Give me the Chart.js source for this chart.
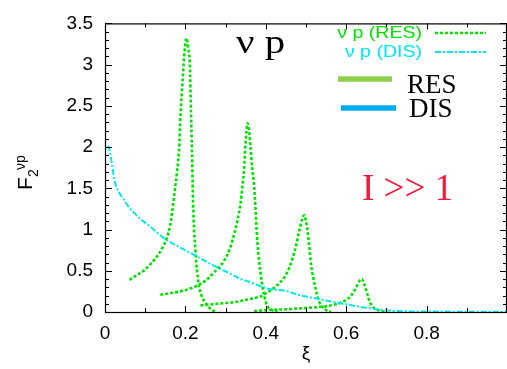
<!DOCTYPE html>
<html><head><meta charset="utf-8">
<script src="https://cdn.jsdelivr.net/npm/chart.js@4"></script>
<style>html,body{margin:0;padding:0;background:#fff;}canvas{display:block;}</style>
</head><body>
<canvas id="c" width="507" height="369"></canvas>
<script>
// ---- data ----
const disX = [0.0075,0.0125,0.025,0.035,0.046,0.0625,0.071,0.09,0.1125,0.13,0.154,0.18,0.204,0.2375,0.279,0.31,0.3375,0.3625,0.383,0.408,0.446,0.48,0.529,0.57,0.6125,0.65,0.679,0.72,0.8,0.9,1.0];
const disY = [2.02,1.93,1.57,1.45,1.37,1.25,1.21,1.12,1.036,0.96,0.87,0.80,0.738,0.65,0.54,0.47,0.40,0.36,0.32,0.28,0.26,0.21,0.16,0.12,0.083,0.05,0.03,0.012,0.006,0.004,0.003];

const res1X = [0.061,0.08,0.096,0.115,0.133,0.145,0.154,0.162,0.167,0.173,0.179,0.184,0.188,0.193,0.197,0.2025,0.207,0.211,0.214,0.217,0.219,0.225,0.233,0.24,0.246,0.26,0.275];
const res1Y = [0.39,0.45,0.50,0.59,0.70,0.80,0.90,1.05,1.21,1.45,1.69,1.95,2.40,2.80,3.10,3.32,3.20,3.00,2.40,1.81,1.33,0.74,0.34,0.20,0.14,0.05,0.0];

const res2X = [0.1375,0.165,0.196,0.22,0.2375,0.255,0.271,0.285,0.296,0.31,0.321,0.33,0.3375,0.342,0.346,0.349,0.352,0.354,0.358,0.362,0.366,0.371,0.375,0.379,0.3875,0.396,0.404,0.4125,0.429];
const res2Y = [0.21,0.23,0.26,0.30,0.34,0.40,0.48,0.55,0.62,0.76,0.94,1.12,1.33,1.53,1.73,2.0,2.2,2.29,2.22,2.0,1.75,1.53,1.2,0.86,0.45,0.2,0.07,0.03,0.0];

const res3X = [0.2375,0.28,0.321,0.3625,0.3875,0.404,0.425,0.446,0.458,0.467,0.475,0.483,0.49,0.496,0.50,0.504,0.508,0.5125,0.518,0.525,0.531,0.5375,0.548,0.5625];
const res3Y = [0.08,0.10,0.12,0.16,0.19,0.24,0.31,0.42,0.53,0.66,0.80,0.98,1.12,1.175,1.10,0.98,0.80,0.58,0.42,0.26,0.15,0.08,0.03,0.0];

const res4X = [0.371,0.404,0.45,0.4875,0.5375,0.56,0.579,0.598,0.6125,0.622,0.629,0.635,0.639,0.644,0.65,0.656,0.6625,0.67,0.679,0.696];
const res4Y = [0.012,0.024,0.033,0.044,0.063,0.078,0.10,0.14,0.20,0.27,0.34,0.39,0.40,0.35,0.26,0.16,0.083,0.045,0.024,0.0];

const xTickValues = [0, 0.2, 0.4, 0.6, 0.8];
const xTickLabels = ['0', '0.2', '0.4', '0.6', '0.8'];
const yTickValues = [0, 0.5, 1, 1.5, 2, 2.5, 3, 3.5];
const yTickLabels = ['0', '0.5', '1', '1.5', '2', '2.5', '3', '3.5'];

const legendLabels = ['ν p (RES)', 'ν p (DIS)'];
const bigLabels = ['RES', 'DIS'];
const titleText = 'ν p';
const noteText = 'I >> 1';

// ---- styles ----
const GREEN = '#00e400';
const CYAN = '#00e8f0';
const greenDash = [3, 2];
const cyanDash = [6, 2, 2, 2];

function pts(xs, ys) { return xs.map((x, i) => ({x: x, y: ys[i]})); }
function resSet(xs, ys) {
  return {data: pts(xs, ys), borderColor: GREEN, borderWidth: 2.6, borderDash: greenDash,
          pointRadius: 0, fill: false, showLine: true, cubicInterpolationMode: 'monotone'};
}

const decor = {
  id: 'decor',
  afterDraw(chart) {
    const ctx = chart.ctx, a = chart.chartArea;
    const xs = chart.scales.x, ys = chart.scales.y;
    ctx.save();
    // frame
    ctx.strokeStyle = '#000'; ctx.lineWidth = 1.2; ctx.setLineDash([]);
    ctx.strokeRect(a.left + 0.5, a.top + 0.5, a.right - a.left - 1, a.bottom - a.top);
    // inward ticks
    ctx.lineWidth = 1;
    for (let i = 0; i <= 10; i++) {
      const v = i / 10, px = Math.round(xs.getPixelForValue(v)) + 0.5;
      const L = (i % 2 === 0) ? 6 : 4;
      ctx.beginPath();
      ctx.moveTo(px, a.bottom); ctx.lineTo(px, a.bottom - L);
      ctx.moveTo(px, a.top); ctx.lineTo(px, a.top + L);
      ctx.stroke();
    }
    for (let i = 0; i <= 35; i++) {
      const v = i / 10, py = Math.round(ys.getPixelForValue(v)) + 0.5;
      const L = (i % 5 === 0) ? 7 : 4;
      ctx.beginPath();
      ctx.moveTo(a.left, py); ctx.lineTo(a.left + L, py);
      ctx.moveTo(a.right, py); ctx.lineTo(a.right - L, py);
      ctx.stroke();
    }
    // y axis title F_2^{νp}
    ctx.save();
    ctx.translate(32, 190);
    ctx.rotate(-Math.PI / 2);
    ctx.fillStyle = '#000';
    ctx.textBaseline = 'alphabetic'; ctx.textAlign = 'left';
    ctx.font = '21px "Liberation Sans", Arial, sans-serif';
    ctx.fillText('F', 0, 0);
    ctx.font = '14px "Liberation Sans", Arial, sans-serif';
    ctx.fillText('2', 13, 6);
    ctx.fillText('νp', 20, -7);
    ctx.restore();
    // big title
    ctx.fillStyle = '#000';
    ctx.font = '34px "Liberation Serif", "Times New Roman", serif';
    ctx.textAlign = 'left'; ctx.textBaseline = 'alphabetic';
    ctx.save(); ctx.translate(236, 53); ctx.scale(1.2, 1); ctx.fillText(titleText, 0, 0); ctx.restore();
    // small legend
    ctx.font = '17px "Liberation Sans", Arial, sans-serif';
    ctx.textAlign = 'right';
    ctx.fillStyle = GREEN;
    ctx.save(); ctx.translate(422, 38); ctx.scale(1.15, 1); ctx.fillText(legendLabels[0], 0, 0); ctx.restore();
    ctx.fillStyle = CYAN;
    ctx.save(); ctx.translate(422, 57); ctx.scale(1.15, 1); ctx.fillText(legendLabels[1], 0, 0); ctx.restore();
    ctx.lineWidth = 2.6; ctx.strokeStyle = GREEN; ctx.setLineDash(greenDash);
    ctx.beginPath(); ctx.moveTo(435, 33); ctx.lineTo(486, 33); ctx.stroke();
    ctx.lineWidth = 2; ctx.strokeStyle = CYAN; ctx.setLineDash(cyanDash);
    ctx.beginPath(); ctx.moveTo(435, 52); ctx.lineTo(486, 52); ctx.stroke();
    ctx.setLineDash([]);
    // big legend
    ctx.lineWidth = 5.5;
    ctx.strokeStyle = '#8cd04c';
    ctx.beginPath(); ctx.moveTo(338, 79); ctx.lineTo(392, 79); ctx.stroke();
    ctx.strokeStyle = '#00aeef';
    ctx.beginPath(); ctx.moveTo(341, 108); ctx.lineTo(396, 108); ctx.stroke();
    ctx.fillStyle = '#000';
    ctx.textAlign = 'left';
    ctx.font = '27px "Liberation Serif", "Times New Roman", serif';
    ctx.fillText(bigLabels[0], 407, 93);
    ctx.fillText(bigLabels[1], 409, 117);
    // note
    ctx.fillStyle = '#f01a3c';
    ctx.font = '37px "Liberation Serif", "Times New Roman", serif';
    ctx.fillText(noteText, 362, 200);
    ctx.restore();
  }
};

new Chart(document.getElementById('c'), {
  type: 'scatter',
  data: {
    datasets: [
      {data: pts(disX, disY), borderColor: CYAN, borderWidth: 2, borderDash: cyanDash,
       pointRadius: 0, fill: false, showLine: true, cubicInterpolationMode: 'monotone'},
      resSet(res1X, res1Y), resSet(res2X, res2Y), resSet(res3X, res3Y), resSet(res4X, res4Y)
    ]
  },
  options: {
    responsive: false, animation: false, devicePixelRatio: 1,
    layout: {padding: {top: 18, right: 0, left: 0, bottom: 0}},
    plugins: {legend: {display: false}, tooltip: {enabled: false}},
    scales: {
      x: {
        type: 'linear', min: 0, max: 1,
        afterFit(s) { s.height = 57; },
        afterBuildTicks(s) { s.ticks = xTickValues.map(v => ({value: v})); },
        grid: {display: false, drawTicks: false},
        border: {display: false},
        ticks: {
          padding: 10, color: '#000', maxRotation: 0, autoSkip: false,
          font: {family: '"Liberation Sans", Arial, sans-serif', size: 19},
          callback: (v) => { const i = xTickValues.indexOf(v); return i >= 0 ? xTickLabels[i] : ''; }
        },
        title: {display: true, text: 'ξ', color: '#000', padding: {top: 0, bottom: 4},
                font: {family: '"Liberation Sans", Arial, sans-serif', size: 19}}
      },
      y: {
        type: 'linear', min: 0, max: 3.5,
        afterFit(s) { s.width = 105; },
        afterBuildTicks(s) { s.ticks = yTickValues.map(v => ({value: v})); },
        grid: {display: false, drawTicks: false},
        border: {display: false},
        ticks: {
          padding: 12, color: '#000', autoSkip: false,
          font: {family: '"Liberation Sans", Arial, sans-serif', size: 19},
          callback: (v) => { const i = yTickValues.indexOf(v); return i >= 0 ? yTickLabels[i] : ''; }
        }
      }
    }
  },
  plugins: [decor]
});
</script>
</body></html>
